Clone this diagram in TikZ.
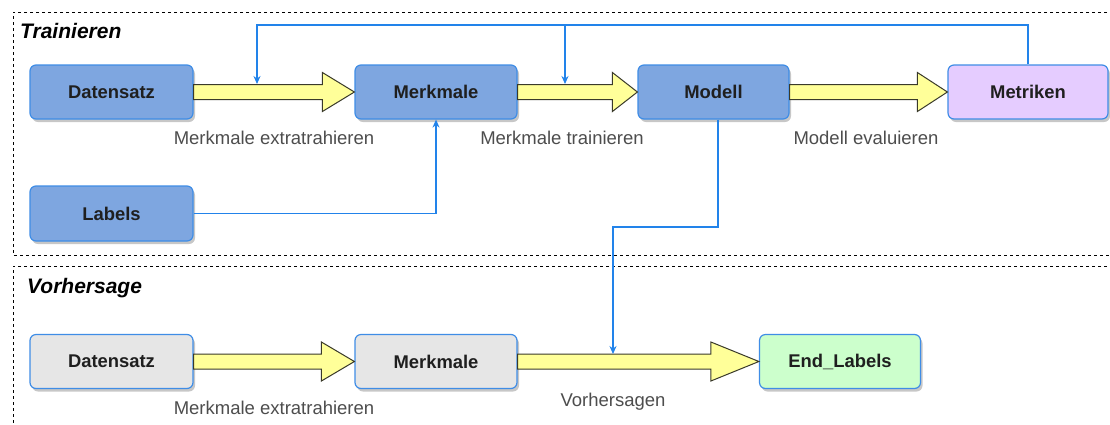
\documentclass[tikz,border=0pt]{standalone}
\usepackage{fontspec}
\setmainfont{Liberation Sans}
\usetikzlibrary{calc,shadows,arrows.meta}

\definecolor{nodeblue}{HTML}{7EA6E0}
\definecolor{edgeblue}{HTML}{3F8DE6}
\definecolor{linkblue}{HTML}{2283EA}
\definecolor{fatyellow}{HTML}{FFFF99}
\definecolor{fatedge}{HTML}{3A3A2A}
\definecolor{lilac}{HTML}{E5CCFF}
\definecolor{greybox}{HTML}{E6E6E6}
\definecolor{mint}{HTML}{CCFFCC}
\definecolor{captiongrey}{HTML}{4D4D4D}

\tikzset{
  box/.style={rounded corners=6pt, draw=edgeblue, line width=1.2pt,
    minimum height=54pt, inner sep=0pt,
    font=\fontsize{18.4}{20}\selectfont\bfseries, text=black!88,
    drop shadow={shadow xshift=2pt, shadow yshift=-3pt, opacity=0.22, fill=black}},
  trainbox/.style={box, fill=nodeblue},
  caption/.style={font=\fontsize{18.5}{20}\selectfont, text=captiongrey},
  phasetitle/.style={font=\fontsize{21}{23}\selectfont\bfseries\itshape, anchor=west, inner sep=0pt},
  phaseframe/.style={draw=black, line width=0.9pt, dash pattern=on 3pt off 3pt},
  fatarrowstyle/.style={fill=fatyellow, draw=fatedge, line width=1pt, line join=miter},
  link/.style={draw=linkblue, line width=1.2pt, -{Stealth[length=8pt,width=7pt]}},
  plainlink/.style={draw=linkblue, line width=1.2pt}
}

% broad yellow arrow from the east side of #1 to the west side of #2, head length #3
\newcommand{\fatarrow}[3]{%
  \draw[fatarrowstyle]
    ($(#1.east)+(0,7.5)$) -- ($(#2.west)+(-#3,7.5)$) -- ($(#2.west)+(-#3,19.5)$)
    -- (#2.west)
    -- ($(#2.west)+(-#3,-19.5)$) -- ($(#2.west)+(-#3,-7.5)$) -- ($(#1.east)+(0,-7.5)$) -- cycle;}

\begin{document}
\begin{tikzpicture}[x=1pt, y=-1pt]
  \useasboundingbox (0,0) rectangle (1110,424);
  \fill[white] (0,0) rectangle (1110,424);

  % phase frames (open to the right)
  \draw[phaseframe] (1125,12) -- (13,12) -- (13,255) -- (1125,255);
  \draw[phaseframe] (1125,266) -- (13,266) -- (13,440);
  \node[phasetitle] (ttrain) at (20,31) {Trainieren};
  \node[phasetitle] (tpred) at (27,288) {Vorhersage};

  % training row
  \node[trainbox, minimum width=163pt] (dset) at (111.5,92) {Datensatz};
  \node[trainbox, minimum width=162pt] (feat) at (436,92) {Merkmale};
  \node[trainbox, minimum width=151pt] (model) at (713.5,92) {Modell};
  \node[box, fill=lilac, minimum width=160pt] (metric) at (1028,92) {Metriken};
  \node[trainbox, minimum width=163pt, minimum height=55pt] (labels) at (111.5,213.5) {Labels};

  % prediction row
  \node[box, fill=greybox, minimum width=163pt] (pdset) at (111.5,361.5) {Datensatz};
  \node[box, fill=greybox, minimum width=162pt] (pfeat) at (436,361.5) {Merkmale};
  \node[box, fill=mint, minimum width=161pt] (plabels) at (840,361.5) {End\_Labels};

  % broad process arrows
  \fatarrow{dset}{feat}{32}
  \fatarrow{feat}{model}{25}
  \fatarrow{model}{metric}{30}
  \fatarrow{pdset}{pfeat}{33}
  \fatarrow{pfeat}{plabels}{48}

  % captions
  \node[caption] (c1) at (274,138) {Merkmale extratrahieren};
  \node[caption] (c2) at (562,138) {Merkmale trainieren};
  \node[caption] (c3) at (866,138) {Modell evaluieren};
  \node[caption] (c4) at (274,408) {Merkmale extratrahieren};
  \node[caption] (c5) at (613,402) {Vorhersagen};

  % feedback from the metrics
  \coordinate (fbA) at (257,84);
  \coordinate (fbB) at (565,84);
  \coordinate (fbTop) at (1028,25);
  \draw[link] (metric.north) -- (fbTop) -- (fbTop -| fbA) -- (fbA);
  \draw[link] (fbTop -| fbB) -- (fbB);

  % labels into the features
  \draw[link] (labels.east) -| (feat.south);

  % trained model into the prediction
  \coordinate (mOut) at ($(model.south)+(4.5,0)$);
  \coordinate (pIn) at (613,354);
  \draw[link] (mOut) -- (mOut |- 0,227) -- (pIn |- 0,227) -- (pIn);
\end{tikzpicture}
\end{document}
